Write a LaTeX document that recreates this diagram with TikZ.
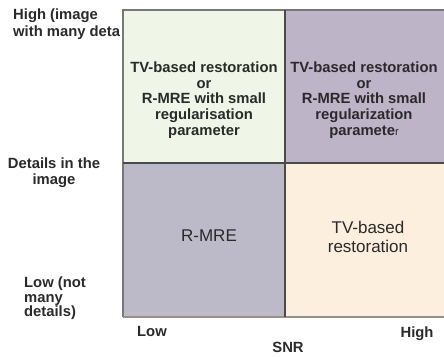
\documentclass[tikz,border=0pt]{standalone}
\usepackage{fontspec}
\setmainfont{Liberation Sans}
\definecolor{tlc}{HTML}{EFF5E7}
\definecolor{trc}{HTML}{BDB4C8}
\definecolor{blc}{HTML}{BCBAC9}
\definecolor{brc}{HTML}{FDEFDD}
\definecolor{outerc}{HTML}{787878}
\definecolor{botc}{HTML}{9A9088}
\definecolor{innerc}{HTML}{4A4A4A}
\definecolor{txt}{HTML}{2A2A2A}
\tikzset{
  lbl/.style={inner sep=0pt, text=txt, font=\bfseries\fontsize{14.8}{15.5}\selectfont},
  boldbox/.style={inner sep=0pt, align=center, text=txt, font=\bfseries\fontsize{14.8}{15.7}\selectfont},
  plainbox/.style={inner sep=0pt, align=center, text=txt, font=\fontsize{17}{18.3}\selectfont},
}
\begin{document}
\begin{tikzpicture}[x=1pt,y=-1pt]
\useasboundingbox (0,0) rectangle (444,356);
% left labels
\node[lbl, anchor=west, align=left, font=\bfseries\fontsize{14.8}{17}\selectfont] (hi) at (13,24) {High (image\\with many deta};
\node[lbl, align=center, font=\bfseries\fontsize{14.8}{16}\selectfont] (det) at (54,172.5) {Details in the\\image};
\node[lbl, anchor=west, align=left, font=\bfseries\fontsize{14.8}{14.5}\selectfont] (lo) at (24,298.5) {Low (not\\many\\details)};
% quadrants
\fill[tlc] (123,10) rectangle (285,163);
\fill[trc] (285,10) rectangle (444,163);
\fill[blc] (123,163) rectangle (285,317);
\fill[brc] (285,163) rectangle (444,317);
\draw[outerc, line width=1.5pt] (444,10) -- (123,10) -- (123,317);
\draw[botc, line width=1.5pt] (123,317) -- (444,317);
\draw[innerc, line width=2pt] (285,10) -- (285,317);
\draw[innerc, line width=2pt] (123,163) -- (444,163);
% quadrant texts
\node[boldbox] (tl) at (204,100) {TV-based restoration\\or\\R-MRE with small\\regularisation\\parameter};
\node[boldbox] (tr) at (364,100) {TV-based restoration\\or\\R-MRE with small\\regularization\\paramete{\mdseries\fontsize{11}{11}\selectfont r}};
\node[plainbox] (bl) at (209,236) {R-MRE};
\node[plainbox] (br) at (368,237) {TV-based\\restoration};
% axis labels
\node[lbl] (low) at (152,331) {Low};
\node[lbl] (high) at (417,334) {High};
\node[lbl] (snr) at (288,347.5) {SNR};
\end{tikzpicture}
\end{document}
